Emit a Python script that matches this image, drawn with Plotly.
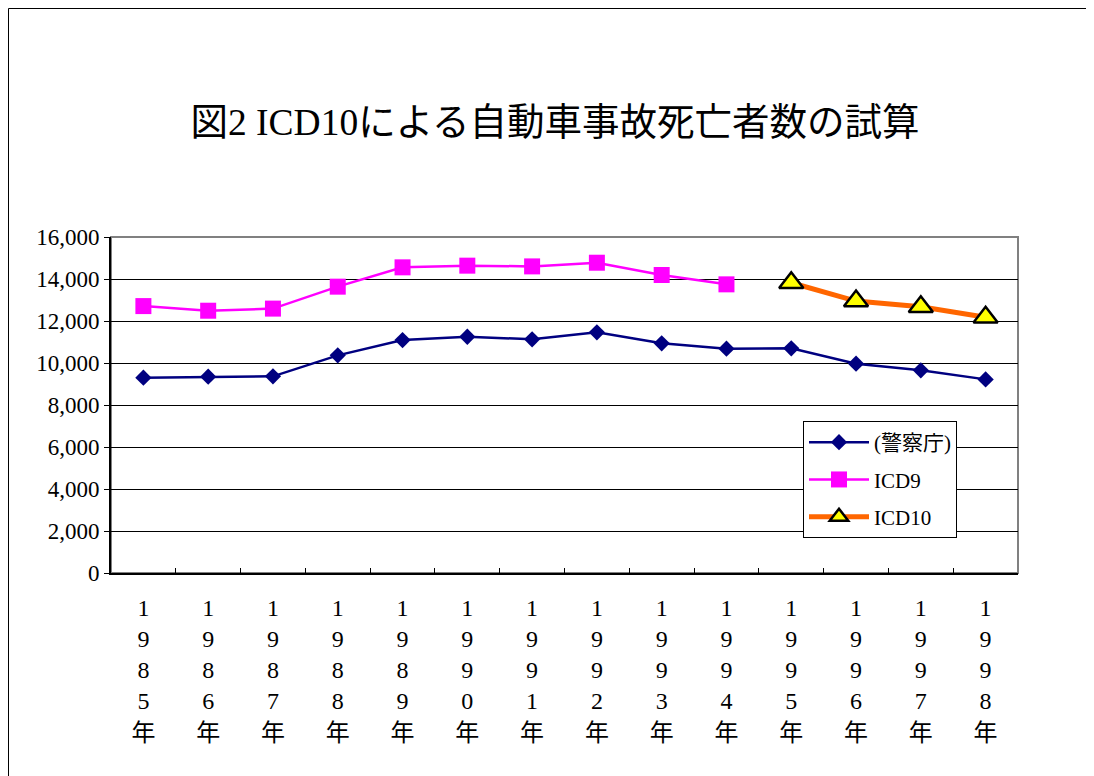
import plotly.graph_objects as go

years = ["1985", "1986", "1987", "1988", "1989", "1990", "1991",
         "1992", "1993", "1994", "1995", "1996", "1997", "1998"]
tick_labels = ["<br>".join(list(y)) + "<br>年" for y in years]

police = [9300, 9350, 9365, 10365, 11095, 11250, 11130,
          11460, 10940, 10680, 10700, 9965, 9650, 9220]
icd9 = [12710, 12490, 12590, 13635, 14555, 14635, 14600,
        14775, 14190, 13745, None, None, None, None]
icd10 = [None, None, None, None, None, None, None,
         None, None, None, 13820, 12950, 12680, 12175]

FONT = "Liberation Serif, Noto Sans CJK JP, serif"

fig = go.Figure()
fig.add_trace(go.Scatter(
    x=years, y=police, name="(警察庁)", mode="lines+markers", legendgroup="a",
    line=dict(color="#000080", width=2.5),
    marker=dict(symbol="diamond", size=12.5, color="#000080"),
))
fig.add_trace(go.Scatter(
    x=years, y=icd9, name="ICD9", mode="lines+markers", legendgroup="b",
    line=dict(color="#FF00FF", width=2.5),
    marker=dict(symbol="square", size=16, color="#FF00FF"),
))
fig.add_trace(go.Scatter(
    x=years, y=icd10, name="ICD10", mode="lines+markers", legendgroup="c",
    line=dict(color="#FF6600", width=5),
    marker=dict(symbol="triangle-up", size=21, color="#FFFF00",
                line=dict(color="#000000", width=2.5)),
))

W, H = 1086, 768
L, T = 103, 229
pw, ph = 907, 336
R, B = W - L - pw, H - T - ph

fig.update_layout(
    width=W, height=H,
    margin=dict(l=L, r=R, t=T, b=B),
    paper_bgcolor="white", plot_bgcolor="white",
    font=dict(family=FONT, color="#000000"),
    title=dict(text="図2 ICD10による自動車事故死亡者数の試算",
               x=(555 - 8) / W, xanchor="center", y=1 - 114 / H, yanchor="middle",
               font=dict(size=37.5, family=FONT, color="#000000")),
    showlegend=True,
    legend=dict(x=(803 - 8 - L) / pw, y=(565 - 413) / ph, xanchor="left", yanchor="top",
                bgcolor="white", bordercolor="#000000", borderwidth=1,
                font=dict(size=21, family=FONT), itemwidth=60,
                traceorder="grouped", tracegroupgap=7),
    xaxis=dict(type="category", tickvals=years, ticktext=tick_labels,
               showgrid=False, showline=True, linecolor="#000000", linewidth=2,
               ticks="inside", tickson="boundaries", ticklen=5, tickcolor="#000000",
               tickfont=dict(size=24, family=FONT), tickangle=0,
               ticklabelstandoff=12, range=[-0.5, 13.5], zeroline=False),
    yaxis=dict(range=[0, 16000], dtick=2000, tickformat=",",
               showgrid=True, gridcolor="#000000", gridwidth=1,
               showline=True, linecolor="#000000", linewidth=2,
               ticks="outside", ticklen=5, tickcolor="#000000",
               tickfont=dict(size=23, family=FONT), zeroline=False),
    shapes=[
        dict(type="rect", xref="paper", yref="paper", x0=0, x1=1, y0=0, y1=1,
             line=dict(color="#808080", width=2), layer="below"),
        dict(type="rect", xref="paper", yref="paper",
             x0=(0.5 - L) / pw, x1=(1085 - L) / pw,
             y0=(T + ph - 800) / ph, y1=(T + ph - 0.5) / ph,
             line=dict(color="#000000", width=1), layer="below"),
    ],
)

fig.write_html("out.html")
